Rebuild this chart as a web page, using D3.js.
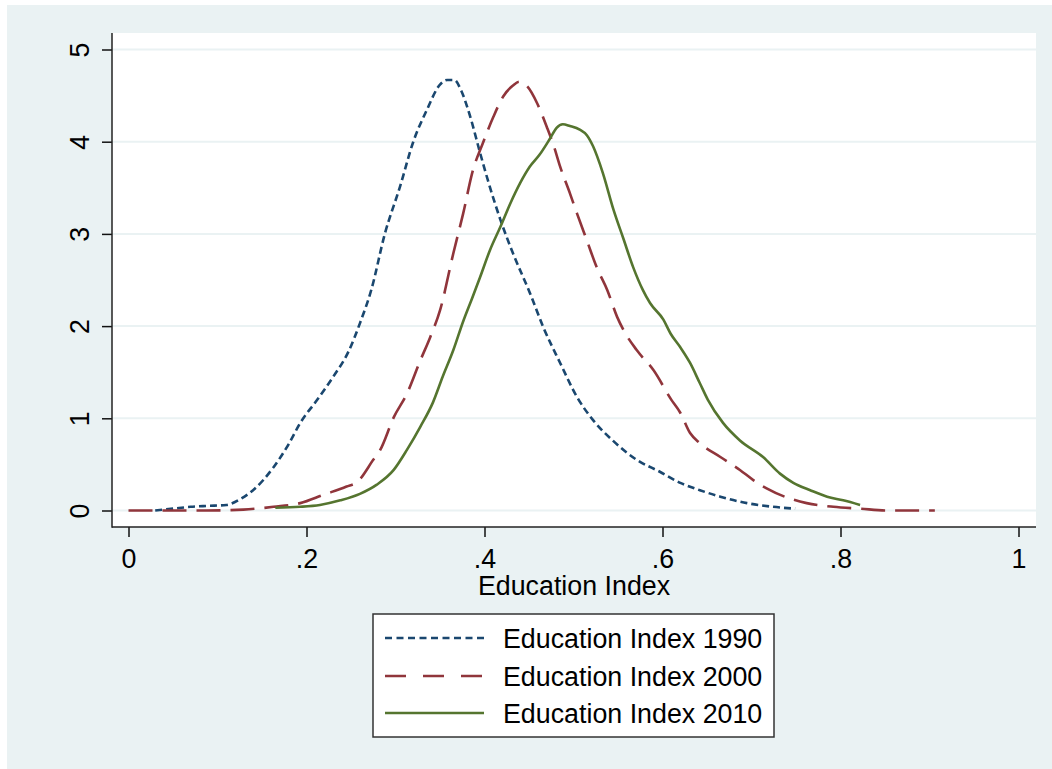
<!DOCTYPE html>
<html>
<head>
<meta charset="utf-8">
<script src="https://cdn.jsdelivr.net/npm/d3@7"></script>
<style>
  body { margin: 0; background: #fff; }
  svg { display: block; font-family: "Liberation Sans", Arial, sans-serif; }
</style>
</head>
<body>
<svg id="chart" width="1052" height="769"></svg>
<script>
// kernel density estimates: [education index, density]
const edu1990 = [
  [0.03, 0.0], [0.05, 0.02], [0.07, 0.04], [0.09, 0.05], [0.11, 0.06], [0.125, 0.12],
  [0.14, 0.22], [0.163, 0.47], [0.18, 0.72], [0.193, 0.95], [0.212, 1.2], [0.23, 1.45],
  [0.247, 1.72], [0.26, 2.03], [0.273, 2.4], [0.288, 3.0], [0.305, 3.51], [0.32, 4.0],
  [0.335, 4.34], [0.35, 4.62], [0.358, 4.67], [0.366, 4.67], [0.374, 4.55], [0.384, 4.27],
  [0.395, 3.88], [0.406, 3.51], [0.418, 3.15], [0.432, 2.79], [0.451, 2.36], [0.466, 1.99],
  [0.485, 1.6], [0.504, 1.23], [0.522, 0.98], [0.544, 0.76], [0.571, 0.55], [0.597, 0.42],
  [0.62, 0.3], [0.642, 0.22], [0.665, 0.15], [0.695, 0.08], [0.724, 0.04], [0.749, 0.02]
];
const edu2000 = [
  [0.0, 0.0], [0.05, 0.0], [0.088, 0.0], [0.129, 0.01], [0.163, 0.04], [0.193, 0.08],
  [0.219, 0.17], [0.245, 0.26], [0.257, 0.31], [0.275, 0.55], [0.283, 0.66], [0.298, 1.01],
  [0.313, 1.27], [0.328, 1.63], [0.339, 1.88], [0.35, 2.17], [0.365, 2.79], [0.376, 3.22],
  [0.387, 3.69], [0.398, 3.98], [0.41, 4.27], [0.421, 4.49], [0.432, 4.61], [0.439, 4.65],
  [0.448, 4.6], [0.459, 4.42], [0.47, 4.16], [0.478, 3.95], [0.485, 3.73], [0.496, 3.44],
  [0.504, 3.22], [0.515, 2.93], [0.526, 2.64], [0.538, 2.39], [0.549, 2.1], [0.556, 1.96],
  [0.571, 1.74], [0.59, 1.52], [0.61, 1.2], [0.62, 1.06], [0.631, 0.84], [0.642, 0.73],
  [0.665, 0.58], [0.687, 0.44], [0.702, 0.33], [0.717, 0.24], [0.74, 0.14], [0.762, 0.08],
  [0.792, 0.04], [0.822, 0.02], [0.852, 0.0], [0.906, 0.0]
];
const edu2010 = [
  [0.165, 0.03], [0.193, 0.04], [0.215, 0.06], [0.238, 0.11], [0.26, 0.18], [0.279, 0.28],
  [0.298, 0.44], [0.313, 0.66], [0.328, 0.91], [0.342, 1.17], [0.353, 1.45], [0.365, 1.74],
  [0.376, 2.05], [0.386, 2.3], [0.395, 2.53], [0.406, 2.82], [0.418, 3.08], [0.429, 3.33],
  [0.44, 3.55], [0.451, 3.73], [0.462, 3.86], [0.474, 4.04], [0.481, 4.15], [0.488, 4.19],
  [0.496, 4.17], [0.507, 4.13], [0.515, 4.07], [0.522, 3.95], [0.533, 3.66], [0.545, 3.26],
  [0.556, 2.95], [0.567, 2.64], [0.578, 2.39], [0.586, 2.25], [0.601, 2.07], [0.609, 1.92],
  [0.62, 1.77], [0.631, 1.6], [0.642, 1.38], [0.651, 1.2], [0.668, 0.95], [0.687, 0.76],
  [0.713, 0.58], [0.732, 0.4], [0.747, 0.3], [0.766, 0.22], [0.785, 0.15], [0.803, 0.11],
  [0.822, 0.06]
];
const seriesNames = ["Education Index 1990", "Education Index 2000", "Education Index 2010"];
const xTicks = [0, 0.2, 0.4, 0.6, 0.8, 1];
const yTicks = [0, 1, 2, 3, 4, 5];

const colors = ["#1a476f", "#90353b", "#55752f"];
const dashes = ["7,4", "24,10", null];
const legendDashes = ["7,4.5", "21,17", null];
const bg = "#eaf2f3";
const fontSize = "26.8px";

const svg = d3.select("#chart");

// outer graph region
svg.append("rect").attr("x", 7).attr("y", 5).attr("width", 1045).attr("height", 764).attr("fill", bg);

// plot region
const plot = { left: 112, right: 1036, top: 33, bottom: 527 };
svg.append("rect")
  .attr("x", plot.left).attr("y", plot.top)
  .attr("width", plot.right - plot.left).attr("height", plot.bottom - plot.top)
  .attr("fill", "#fff");

const x = d3.scaleLinear().domain([0, 1]).range([128.5, 1018.5]);
const y = d3.scaleLinear().domain([0, 5]).range([510.5, 49.5]);

// grid lines
svg.append("g").selectAll("line").data(yTicks).enter().append("line")
  .attr("x1", plot.left).attr("x2", plot.right)
  .attr("y1", d => y(d)).attr("y2", d => y(d))
  .attr("stroke", bg).attr("stroke-width", 2);

// y axis
const yAxis = svg.append("g")
  .attr("transform", "translate(" + plot.left + ",0)")
  .call(d3.axisLeft(y).tickValues(yTicks).tickSize(10).tickFormat(d3.format("d")));
yAxis.select(".domain").remove();
yAxis.selectAll(".tick line").attr("stroke", "#111").attr("stroke-width", 1.5);
yAxis.selectAll(".tick text")
  .attr("x", null).attr("dy", null)
  .attr("transform", "translate(-23,0) rotate(-90)")
  .attr("text-anchor", "middle")
  .attr("fill", "#000")
  .style("font-size", fontSize);

// x axis
const fmtX = d => (d === 0 || d === 1) ? String(d) : d3.format(".1f")(d).replace(/^0/, "");
const xAxis = svg.append("g")
  .attr("transform", "translate(0," + plot.bottom + ")")
  .call(d3.axisBottom(x).tickValues(xTicks).tickSize(10).tickFormat(fmtX));
xAxis.select(".domain").remove();
xAxis.selectAll(".tick line").attr("stroke", "#111").attr("stroke-width", 1.5);
xAxis.selectAll(".tick text")
  .attr("y", 41).attr("dy", null)
  .attr("fill", "#000")
  .style("font-size", fontSize);

// axis lines
svg.append("line").attr("x1", plot.left).attr("x2", plot.left)
  .attr("y1", plot.top).attr("y2", plot.bottom + 0.75)
  .attr("stroke", "#222").attr("stroke-width", 1.5);
svg.append("line").attr("x1", plot.left).attr("x2", plot.right)
  .attr("y1", plot.bottom).attr("y2", plot.bottom)
  .attr("stroke", "#222").attr("stroke-width", 1.5);

// axis title
svg.append("text")
  .attr("x", (plot.left + plot.right) / 2).attr("y", 595)
  .attr("text-anchor", "middle")
  .style("font-size", fontSize)
  .text("Education Index");

// density curves
const line = d3.line()
  .x(d => x(d[0]))
  .y(d => y(d[1]))
  .curve(d3.curveMonotoneX);

[edu1990, edu2000, edu2010].forEach(function (data, i) {
  svg.append("path")
    .datum(data)
    .attr("fill", "none")
    .attr("stroke", colors[i])
    .attr("stroke-width", 2.6)
    .attr("stroke-dasharray", dashes[i])
    .attr("d", line);
});

// legend
const legend = svg.append("g");
legend.append("rect")
  .attr("x", 373).attr("y", 614).attr("width", 401).attr("height", 123)
  .attr("fill", "#fff").attr("stroke", "#333").attr("stroke-width", 1.5);

const rowY = [638, 676, 713];
seriesNames.forEach(function (name, i) {
  legend.append("line")
    .attr("x1", 385).attr("x2", 484)
    .attr("y1", rowY[i]).attr("y2", rowY[i])
    .attr("stroke", colors[i]).attr("stroke-width", 2.6)
    .attr("stroke-dasharray", legendDashes[i]);
  legend.append("text")
    .attr("x", 503).attr("y", rowY[i] + 10)
    .style("font-size", fontSize)
    .text(name);
});
</script>
</body>
</html>
